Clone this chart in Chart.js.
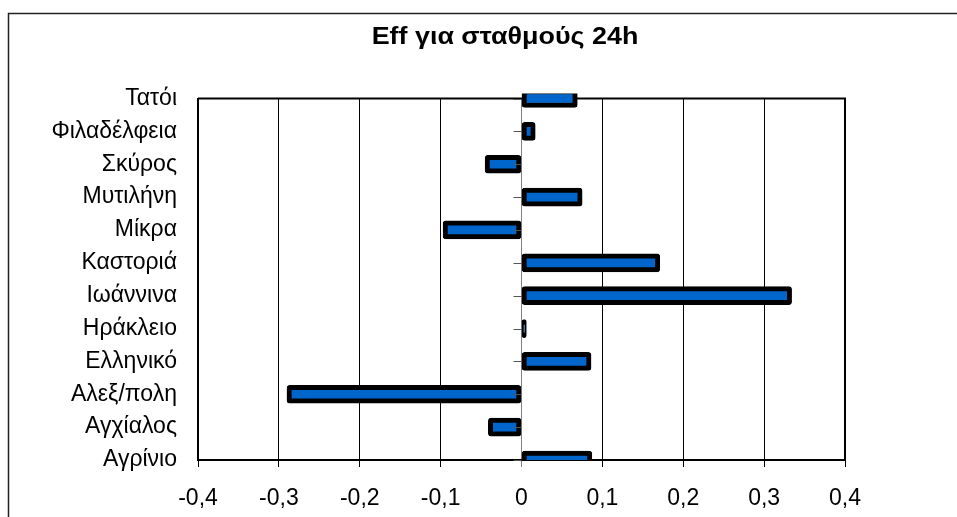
<!DOCTYPE html>
<html>
<head>
<meta charset="utf-8">
<script src="https://cdn.jsdelivr.net/npm/chart.js@4.4.1/dist/chart.umd.min.js"></script>
<style>
  html, body { margin: 0; padding: 0; background: #ffffff; }
  #wrap { width: 957px; height: 517px; }
</style>
</head>
<body>
<div id="wrap"><canvas id="c" width="957" height="517"></canvas></div>
<script>
const titleText = 'Eff για σταθμούς 24h';
const stations = ['Τατόι', 'Φιλαδέλφεια', 'Σκύρος', 'Μυτιλήνη', 'Μίκρα', 'Καστοριά', 'Ιωάννινα', 'Ηράκλειο', 'Ελληνικό', 'Αλεξ/πολη', 'Αγχίαλος', 'Αγρίνιο'];
const effValues = [0.069, 0.017, -0.045, 0.075, -0.097, 0.171, 0.334, 0.006, 0.086, -0.290, -0.041, 0.087];
const xMin = -0.4;
const xMax = 0.4;
const xStep = 0.1;

function fmtTick(v) {
  const r = Math.round(v * 10) / 10;
  if (r === 0) return '0';
  return String(r).replace('.', ',');
}

const decor = {
  id: 'decor',
  beforeDraw(chart) {
    const ctx = chart.ctx;
    ctx.save();
    ctx.fillStyle = '#ffffff';
    ctx.fillRect(0, 0, chart.width, chart.height);
    ctx.strokeStyle = '#222222';
    ctx.lineWidth = 1.5;
    ctx.strokeRect(8.5, 13.5, 3000, 3000);
    ctx.restore();
  },
  beforeDatasetsDraw(chart) {
    const ctx = chart.ctx;
    const a = chart.chartArea;
    ctx.save();
    ctx.strokeStyle = '#000000';
    ctx.lineWidth = 2;
    ctx.beginPath();
    ctx.moveTo(a.left, a.top);
    ctx.lineTo(a.right, a.top);
    ctx.lineTo(a.right, a.bottom);
    ctx.stroke();
    ctx.restore();
  },
  afterDatasetsDraw(chart) {
    const ctx = chart.ctx;
    const xs = chart.scales.x;
    const ys = chart.scales.y;
    const x0 = xs.getPixelForValue(0);
    ctx.save();
    ctx.strokeStyle = '#555555';
    ctx.lineWidth = 1;
    ys.ticks.forEach((t, i) => {
      const y = Math.round(ys.getPixelForTick(i)) + 0.5;
      ctx.beginPath();
      ctx.moveTo(x0 - 8, y);
      ctx.lineTo(x0, y);
      ctx.stroke();
    });
    ctx.restore();
  },
  afterDraw(chart) {
    const ctx = chart.ctx;
    ctx.save();
    ctx.fillStyle = '#000000';
    ctx.font = 'bold 24px Arial, "Liberation Sans", sans-serif';
    ctx.textAlign = 'center';
    ctx.textBaseline = 'alphabetic';
    ctx.translate(505, 44);
    ctx.scale(1.12, 1);
    ctx.fillText(titleText, 0, 0);
    ctx.restore();
  }
};

new Chart(document.getElementById('c'), {
  type: 'bar',
  data: {
    labels: stations,
    datasets: [{
      label: titleText,
      data: effValues,
      backgroundColor: '#0066CC',
      borderColor: '#000000',
      borderWidth: 5,
      borderSkipped: false,
      borderRadius: 3,
      barThickness: 18,
      clip: { left: 10, top: 5, right: 10, bottom: 0 }
    }]
  },
  plugins: [decor],
  options: {
    indexAxis: 'y',
    responsive: false,
    animation: false,
    devicePixelRatio: 1,
    layout: { padding: { left: 0, right: 112, top: 98.5, bottom: 0 } },
    plugins: {
      legend: { display: false },
      tooltip: { enabled: false },
      title: { display: false }
    },
    scales: {
      x: {
        type: 'linear',
        min: xMin,
        max: xMax,
        afterFit(scale) { scale.height = 57; },
        ticks: {
          stepSize: xStep,
          color: '#000000',
          padding: 18,
          maxRotation: 0,
          font: { family: 'Arial, "Liberation Sans", sans-serif', size: 23 },
          callback: (v) => fmtTick(v)
        },
        grid: {
          display: true,
          drawTicks: true,
          tickLength: 7,
          lineWidth: 1,
          color: (ctx) => (ctx.tick && Math.abs(ctx.tick.value) < 1e-9) ? '#808080' : '#000000'
        },
        border: { display: true, color: '#000000', width: 2 }
      },
      y: {
        type: 'category',
        offset: false,
        afterFit(scale) { scale.width = 198; },
        ticks: {
          color: '#000000',
          padding: 21,
          autoSkip: false,
          font: { family: 'Arial, "Liberation Sans", sans-serif', size: 23 }
        },
        grid: { display: false, drawTicks: false },
        border: { display: true, color: '#000000', width: 2 }
      }
    }
  }
});
</script>
</body>
</html>
